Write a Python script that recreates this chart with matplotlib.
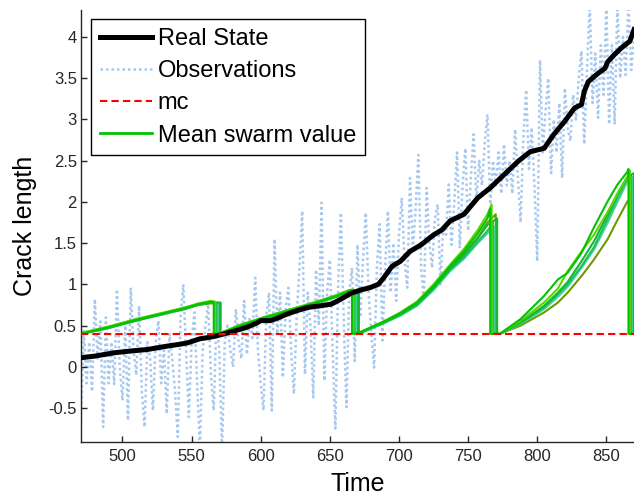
import numpy as np
import matplotlib
matplotlib.use('Agg')
import matplotlib.pyplot as plt

plt.rcParams['font.family'] = ['Liberation Sans', 'DejaVu Sans']

# observations, one every 2 time steps
obs_t = np.arange(470, 871, 2)
obs_v = [-0.65, 0.45, -0.2, 0.3, -0.3, 0.82, 0.1, 0.55, -0.73, 0.6,
         -0.2, 0.3, -0.21, 0.94, 0.0, -0.41, 0.5, -0.65, 0.96, 0.2,
         -0.1, 0.74, -0.3, -0.73, 0.3, 0.1, -0.53, 0.3, 0.56, -0.2,
         0.2, -0.57, 0.4, 0.1, -0.3, -0.85, 0.6, 1.0, 0.2, -0.61,
         0.3, 0.66, -0.2, -1.0, 0.2, 0.5, 0.76, -0.1, -0.53, 0.6,
         0.2, -1.0, 0.3, 0.5, 0.2, 0.0, 0.7, 0.3, 0.1, 0.8,
         0.15, 0.6, 0.35, 1.08, 0.2, -0.2, -0.53, 0.6, 0.9, -0.53,
         1.55, 0.4, 0.9, -0.13, 0.7, 0.96, 0.2, -0.33, 0.6, 1.2,
         1.89, -0.09, 0.9, 0.5, -0.37, 1.18, 0.5, 1.99, -0.17, 0.9,
         1.3, 0.2, -0.75, 1.0, 1.87, 0.6, -0.49, 0.9, 1.2, 0.07,
         1.48, 0.6, 1.3, 1.87, 0.9, 0.4, -0.01, 1.2, 1.73, 0.32,
         1.2, 1.89, 0.9, 1.5, 0.8, 1.6, 2.05, 1.3, 0.96, 2.29,
         1.4, 1.9, 2.57, 1.2, 0.8, 2.17, 1.5, 1.2, 1.8, 1.97,
         1.0, 1.7, 1.6, 2.21, 1.48, 2.0, 2.6, 1.44, 2.2, 2.65,
         1.65, 2.3, 2.82, 2.0, 2.5, 2.2, 2.7, 3.06, 1.97, 2.5,
         2.2, 2.6, 2.1, 2.7, 2.2, 2.5, 2.1, 2.88, 2.3, 1.75,
         2.8, 3.36, 2.4, 2.9, 2.2, 1.28, 3.72, 2.6, 3.1, 3.5,
         2.35, 3.0, 2.6, 3.2, 2.29, 3.38, 2.9, 2.74, 3.3, 3.0,
         3.5, 3.83, 2.7, 3.6, 4.4, 3.2, 3.8, 3.02, 3.9, 3.3,
         4.4, 2.94, 3.9, 2.94, 4.4, 3.5, 4.0, 3.54, 4.4, 3.6,
         4.0]

real_t = [470, 480, 494, 505, 518, 532, 540, 547, 556, 562,
          568, 578, 590, 597, 600, 607, 612, 619, 626, 634,
          643, 651, 658, 665, 672, 679, 685, 689, 695, 701,
          708, 716, 725, 731, 737, 747, 753, 757, 766, 776,
          786, 795, 805, 812, 820, 827, 832, 834, 837, 844,
          849, 851, 856, 861, 867, 870]
real_v = [0.11, 0.13, 0.17, 0.19, 0.21, 0.25, 0.27, 0.29, 0.34, 0.355,
          0.375, 0.42, 0.48, 0.53, 0.56, 0.56, 0.59, 0.64, 0.68, 0.72,
          0.74, 0.76, 0.82, 0.89, 0.93, 0.96, 1.0, 1.08, 1.22, 1.28,
          1.40, 1.48, 1.60, 1.66, 1.77, 1.85, 1.97, 2.05, 2.17, 2.33,
          2.49, 2.61, 2.65, 2.82, 2.98, 3.14, 3.18, 3.34, 3.46, 3.56,
          3.62, 3.70, 3.79, 3.87, 3.95, 4.09]

mc = 0.4

# swarm runs: knot times per cycle, then per run the values at the knots
# plus the value reached just before the reset
seg_knots = [[470, 490, 510, 530, 545, 555, 564],
             [572, 585, 600, 620, 640, 655, 664],
             [672, 689, 701, 713, 725, 737, 747, 757, 764],
             [773, 788, 805, 815, 822, 832, 841, 851, 858, 865]]

run1 = [[0.40, 0.48, 0.57, 0.65, 0.71, 0.76, 0.79, 0.78],
        [0.41, 0.50, 0.58, 0.68, 0.78, 0.86, 0.92, 0.93],
        [0.42, 0.55, 0.65, 0.78, 0.98, 1.22, 1.40, 1.62, 1.80, 1.92],
        [0.40, 0.58, 0.86, 1.06, 1.14, 1.38, 1.69, 2.01, 2.21, 2.36, 2.40]]
run2 = [[0.41, 0.49, 0.58, 0.66, 0.72, 0.77, 0.80, 0.79],
        [0.42, 0.51, 0.59, 0.69, 0.79, 0.87, 0.93, 0.94],
        [0.42, 0.55, 0.66, 0.79, 1.00, 1.24, 1.43, 1.66, 1.85, 1.97],
        [0.40, 0.56, 0.78, 0.95, 1.16, 1.40, 1.60, 1.88, 2.10, 2.30, 2.38]]
run3 = [[0.40, 0.47, 0.56, 0.64, 0.70, 0.75, 0.78, 0.77],
        [0.41, 0.49, 0.57, 0.67, 0.77, 0.85, 0.91, 0.92],
        [0.41, 0.53, 0.63, 0.75, 0.95, 1.18, 1.33, 1.52, 1.65, 1.75],
        [0.40, 0.53, 0.72, 0.88, 1.00, 1.22, 1.45, 1.80, 2.05, 2.28, 2.33]]
run4 = [[0.41, 0.48, 0.58, 0.65, 0.72, 0.76, 0.79, 0.77],
        [0.40, 0.50, 0.58, 0.68, 0.78, 0.86, 0.92, 0.91],
        [0.41, 0.53, 0.62, 0.74, 0.93, 1.16, 1.31, 1.50, 1.62, 1.70],
        [0.40, 0.52, 0.70, 0.85, 0.97, 1.20, 1.42, 1.75, 2.00, 2.24, 2.30]]
run5 = [[0.40, 0.47, 0.57, 0.64, 0.71, 0.75, 0.77, 0.76],
        [0.41, 0.49, 0.58, 0.67, 0.77, 0.85, 0.90, 0.90],
        [0.42, 0.54, 0.64, 0.77, 0.97, 1.20, 1.37, 1.57, 1.75, 1.85],
        [0.40, 0.50, 0.66, 0.78, 0.90, 1.10, 1.30, 1.55, 1.78, 2.00, 2.09]]
run6 = [[0.40, 0.48, 0.56, 0.65, 0.70, 0.76, 0.78, 0.78],
        [0.42, 0.50, 0.59, 0.69, 0.78, 0.87, 0.93, 0.92],
        [0.41, 0.54, 0.64, 0.76, 0.96, 1.19, 1.36, 1.56, 1.72, 1.80],
        [0.40, 0.54, 0.74, 0.90, 1.03, 1.28, 1.52, 1.85, 2.10, 2.30, 2.35]]

runs = [run5, run4, run3, run6, run2, run1]
run_start = [0.77, 0.40, 0.40, 0.40, 0.40, 0.40]
run_drops = [[570, 670, 770, 870], [569, 669, 769, 869], [568, 668, 768, 868],
             [571, 671, 771, 870], [567, 667, 767, 867], [566, 666, 766, 866]]
run_colors = ['#6e9900', '#45d49c', '#1fc060', '#12b830', '#5cd400', '#00c400']

fig = plt.figure(figsize=(6.34, 4.98), dpi=100)
ax = fig.add_axes([81/634, 56/498, 553/634, 432/498])

obs_line, = ax.plot(obs_t, obs_v, color='#a6c8f0', lw=1.8, dashes=(1, 1.2),
                    zorder=1)

for run, start, drops, col in zip(runs, run_start, run_drops, run_colors):
    tt = [470]
    vv = [start]
    for knots, vals, d in zip(seg_knots, run, drops):
        tt += knots + [d, d]
        vv += vals + [mc]
    if tt[-1] < 870:
        tt.append(870)
        vv.append(mc)
    ax.plot(tt, vv, color=col, lw=1.5, zorder=2)

real_line, = ax.plot(real_t, real_v, color='k', lw=3.6, zorder=4)
mc_line, = ax.plot([470, 870], [mc, mc], color='#ff0000', lw=1.5,
                   dashes=(3.5, 2), zorder=5)
swarm_handle, = ax.plot([], [], color='#00c400', lw=2)

ax.set_xlim(470, 870)
ax.set_ylim(-0.912, 4.328)
ax.set_xticks([500, 550, 600, 650, 700, 750, 800, 850])
ax.set_yticks([-0.5, 0, 0.5, 1, 1.5, 2, 2.5, 3, 3.5, 4])
ax.set_yticklabels(['-0.5', '0', '0.5', '1', '1.5', '2', '2.5', '3', '3.5', '4'])
ax.spines['top'].set_visible(False)
ax.spines['right'].set_visible(False)
for s in ['left', 'bottom']:
    ax.spines[s].set_color('#262626')
    ax.spines[s].set_linewidth(1.0)
ax.tick_params(direction='in', length=4.5, width=1.0, colors='#262626',
               labelsize=12)
ax.tick_params(axis='x', pad=5)
ax.tick_params(axis='y', pad=3)

ax.set_xlabel('Time', fontsize=18)
ax.set_ylabel('Crack length', fontsize=18)
ax.xaxis.set_label_coords(0.5, -0.07)
ax.yaxis.set_label_coords(-0.079, 0.5)

leg = ax.legend([real_line, obs_line, mc_line, swarm_handle],
                ['Real State', 'Observations', 'mc', 'Mean swarm value'],
                loc='upper left', bbox_to_anchor=(0.018, 0.979),
                borderaxespad=0, fontsize=17, fancybox=False, framealpha=1,
                edgecolor='k', handlelength=2.2, handletextpad=0.25,
                labelspacing=0.43, borderpad=0.38)
leg.get_frame().set_linewidth(1.0)
leg.set_zorder(10)

fig.savefig('out.png', dpi=100)
